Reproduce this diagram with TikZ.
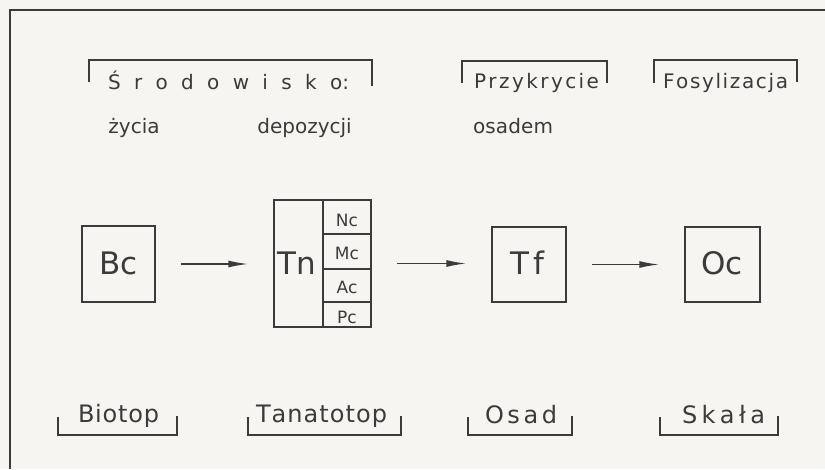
\documentclass[tikz,border=0pt]{standalone}
\usepackage{fontspec}
\setmainfont{DejaVu Sans}
\usetikzlibrary{arrows.meta}
\definecolor{ink}{HTML}{3E393B}
\definecolor{paper}{HTML}{F7F5F1}
\tikzset{
  lbl/.style={anchor=base, inner sep=0pt, text=ink},
  toptxt/.style={lbl, font=\fontsize{20}{24}\selectfont},
  bottxt/.style={lbl, font=\fontsize{24}{28}\selectfont},
  bigtxt/.style={lbl, font=\fontsize{31}{36}\selectfont},
  smalltxt/.style={lbl, font=\fontsize{17}{20}\selectfont},
  boxnode/.style={draw=ink, line width=1.4pt, inner sep=0pt, minimum width=#1},
  bracketline/.style={draw=ink, line width=1.4pt},
  arr/.style={draw=ink, line width=1.5pt, -{Latex[length=20pt,width=7pt]}, shorten <=25pt, shorten >=25pt}
}
\begin{document}
\begin{tikzpicture}[x=1pt,y=-1pt]
\fill[paper] (0,0) rectangle (825,469);
\useasboundingbox (0,0) rectangle (825,469);
% outer frame
\draw[ink, line width=2pt] (10,469) -- (10,10) -- (825,10);

% top labels
\node[toptxt] (srod) at (228.5,89) {\makebox[241pt]{Ś\hfill r\hfill o\hfill d\hfill o\hfill w\hfill i\hfill s\hfill k\hfill o:}};
\node[toptxt] (zycia) at (134,133) {życia};
\node[toptxt] (depoz) at (304.5,133) {depozycji};
\node[toptxt] (przyk) at (536.5,88) {\makebox[125pt]{P\hfill r\hfill z\hfill y\hfill k\hfill r\hfill y\hfill c\hfill i\hfill e}};
\node[toptxt] (osadem) at (513,133) {\makebox[80pt]{o\hfill s\hfill a\hfill d\hfill e\hfill m}};
\node[toptxt] (fosyl) at (725.5,88) {\makebox[125pt]{F\hfill o\hfill s\hfill y\hfill l\hfill i\hfill z\hfill a\hfill c\hfill j\hfill a}};

% top brackets
\draw[bracketline] (89,82) -- (89,60) -- (372,60) -- (372,86);
\draw[bracketline] (462,83) -- (462,61) -- (607,61) -- (607,83);
\draw[bracketline] (654,83) -- (654,60) -- (797,60) -- (797,82);

% boxes
\node[boxnode=73pt, minimum height=76pt] (bc) at (118.5,264) {};
\node[bigtxt] (bcl) at (118.5,274) {Bc};

\node[boxnode=97pt, minimum height=127pt] (tnbox) at (322.5,263.5) {};
\node[boxnode=48pt, minimum height=34pt] (nc) at (347,217) {};
\node[boxnode=48pt, minimum height=35pt] (mc) at (347,251.5) {};
\node[boxnode=48pt, minimum height=33pt] (ac) at (347,285.5) {};
\node[boxnode=48pt, minimum height=25pt] (pc) at (347,314.5) {};
\node[bigtxt] (tnl) at (297,274) {Tn};
\node[smalltxt] (ncl) at (347,226) {Nc};
\node[smalltxt] (mcl) at (347,259) {Mc};
\node[smalltxt] (acl) at (347,293) {Ac};
\node[smalltxt] (pcl) at (347,323) {Pc};

\node[boxnode=74pt, minimum height=75pt] (tf) at (529,264.5) {};
\node[bigtxt] (tfl) at (527,274) {\makebox[34pt]{T\hfill f}};

\node[boxnode=75pt, minimum height=75pt] (oc) at (722.5,264.5) {};
\node[bigtxt] (ocl) at (722,274) {Oc};

% arrows
\draw[arr] (bc.east) -- (bc.east -| tnbox.west);
\draw[arr] (tnbox.east) -- (tnbox.east -| tf.west);
\draw[arr] (tf.east) -- (oc.west);

% bottom labels
\node[bottxt] (biotop) at (118.5,422) {\makebox[81pt]{B\hfill i\hfill o\hfill t\hfill o\hfill p}};
\node[bottxt] (tanat) at (321.5,422) {\makebox[131pt]{T\hfill a\hfill n\hfill a\hfill t\hfill o\hfill t\hfill o\hfill p}};
\node[bottxt] (osad) at (521,423) {\makebox[72pt]{O\hfill s\hfill a\hfill d}};
\node[bottxt] (skala) at (723.5,423) {\makebox[83pt]{S\hfill k\hfill a\hfill ł\hfill a}};

% bottom brackets
\draw[bracketline] (58,417) -- (58,435) -- (177,435) -- (177,416);
\draw[bracketline] (248,417) -- (248,435) -- (401,435) -- (401,416);
\draw[bracketline] (468,417) -- (468,435) -- (572,435) -- (572,416);
\draw[bracketline] (660,417) -- (660,435) -- (778,435) -- (778,416);
\end{tikzpicture}
\end{document}
